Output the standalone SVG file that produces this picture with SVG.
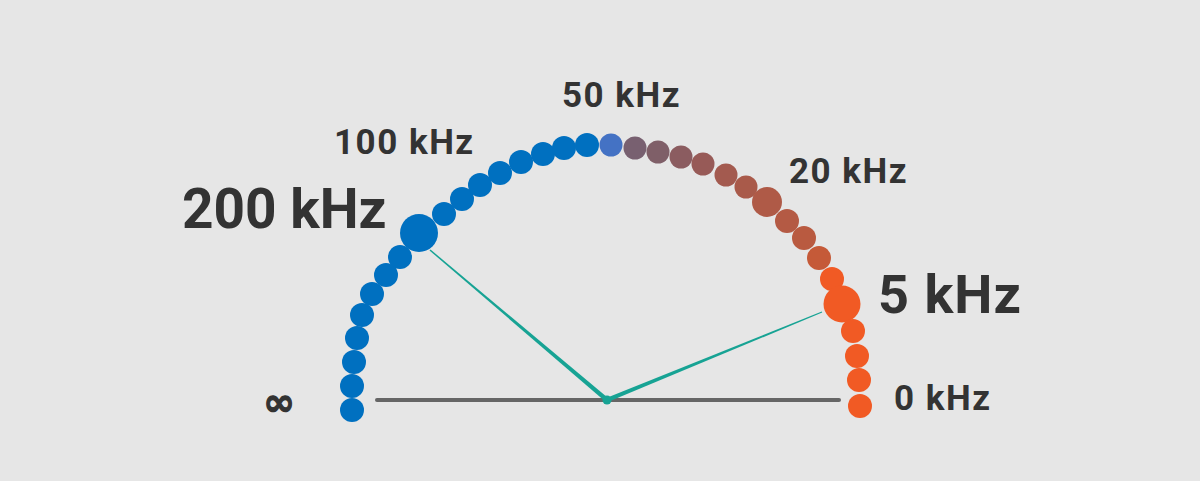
<svg xmlns="http://www.w3.org/2000/svg" width="1200" height="481" viewBox="0 0 1200 481">
<style>
.lbl{font-family:Roboto,"Liberation Sans",sans-serif;font-weight:700;fill:#333333}
.sm{font-size:35px;letter-spacing:1.5px}
.lg{font-size:55px}
.b{fill:#0070c0}
.o{fill:#f15a24}
.needle{fill:#17a394}
</style>
<rect width="1200" height="481" fill="#e6e6e6"/>
<g id="baseline">
<line x1="377" y1="400" x2="839" y2="400" stroke="#666666" stroke-width="4" stroke-linecap="round"/>
</g>
<g id="dots">
<circle class="b" cx="352" cy="410" r="12"/>
<circle class="b" cx="352" cy="386" r="12"/>
<circle class="b" cx="354" cy="362" r="12"/>
<circle class="b" cx="357" cy="338" r="12"/>
<circle class="b" cx="362" cy="315" r="12"/>
<circle class="b" cx="372" cy="294" r="12"/>
<circle class="b" cx="386" cy="275" r="12"/>
<circle class="b" cx="400" cy="257" r="12"/>
<circle class="b" cx="419" cy="233" r="19"/>
<circle class="b" cx="444" cy="214" r="12"/>
<circle class="b" cx="462" cy="199" r="12"/>
<circle class="b" cx="480" cy="185" r="12"/>
<circle class="b" cx="500" cy="173" r="12"/>
<circle class="b" cx="521" cy="162" r="12"/>
<circle class="b" cx="543" cy="154" r="12"/>
<circle class="b" cx="564" cy="148" r="12"/>
<circle class="b" cx="587" cy="145" r="12"/>
<circle cx="611" cy="145" r="11.5" fill="#4472c4"/>
<circle cx="635" cy="148" r="11.5" fill="#786070"/>
<circle cx="658" cy="152" r="11.5" fill="#7f5f68"/>
<circle cx="681" cy="157" r="11.5" fill="#8b5c60"/>
<circle cx="703" cy="164" r="11.5" fill="#975a57"/>
<circle cx="726" cy="175" r="11.5" fill="#a35a4f"/>
<circle cx="746" cy="187" r="11.5" fill="#a95a4a"/>
<circle cx="767" cy="202" r="15" fill="#af5a47"/>
<circle cx="787" cy="221" r="12" fill="#b45a44"/>
<circle cx="804" cy="238" r="12" fill="#b95a40"/>
<circle cx="819" cy="258" r="12" fill="#c55a38"/>
<circle class="o" cx="832" cy="279" r="12"/>
<circle class="o" cx="842" cy="304" r="18.5"/>
<circle class="o" cx="853" cy="331" r="12"/>
<circle class="o" cx="857" cy="356" r="12"/>
<circle class="o" cx="859" cy="380" r="12"/>
<circle class="o" cx="860" cy="406" r="12"/>
</g>
<g id="connectors">
<polygon class="needle" points="605.6,401.7 608.4,398.3 430.5,249.5 429.5,250.5"/>
<polygon class="needle" points="606.2,398.1 607.8,401.9 822.2,312.6 821.8,311.4"/>
<circle class="needle" cx="607" cy="400" r="4.5"/>
</g>
<g id="label-200"><text class="lbl lg" x="182" y="228">200 kHz</text></g>
<g id="label-100"><text class="lbl sm" x="334" y="154">100 kHz</text></g>
<g id="label-50"><text class="lbl sm" x="562" y="107">50 kHz</text></g>
<g id="label-20"><text class="lbl sm" x="789" y="183">20 kHz</text></g>
<g id="label-5"><text class="lbl lg" x="878" y="313" style="font-size:54px;letter-spacing:1px">5 kHz</text></g>
<g id="label-0"><text class="lbl sm" x="894" y="410">0 kHz</text></g>
<g id="label-inf"><text x="279" y="415" text-anchor="middle" style="font-family:'DejaVu Sans',sans-serif;font-weight:700;font-size:38px;fill:#333333;stroke:#333333;stroke-width:1.2px">∞</text></g>
</svg>
